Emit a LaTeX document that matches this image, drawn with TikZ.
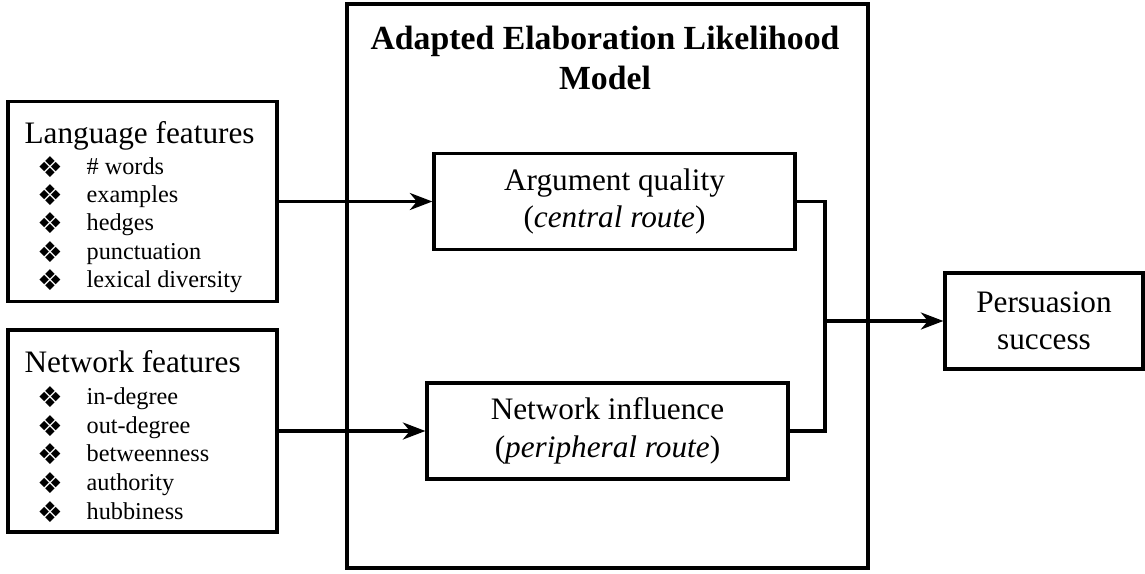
\documentclass[tikz,border=0pt]{standalone}
\usepackage{fontspec}
\setmainfont{Liberation Serif}
\newfontfamily\dingfont{DejaVu Sans}
\usetikzlibrary{arrows.meta}
\newcommand{\featbullet}{\makebox[19.6pt][l]{\raisebox{-1.2pt}{\dingfont\fontsize{11.5}{12}\selectfont ❖}}}

\begin{document}
\begin{tikzpicture}[x=0.4pt,y=-0.4pt,line width=1.3pt,
  box/.style={draw,rectangle,inner sep=0pt},
  feat/.style={anchor=base west,inner sep=0pt,font=\fontsize{12.5}{15}\selectfont},
  item/.style={anchor=base west,inner sep=0pt,font=\fontsize{9.7}{11.6}\selectfont},
  route/.style={box,minimum width=144.4pt,minimum height=38.4pt,align=center,font=\fontsize{12.5}{15}\selectfont},
  arr/.style={-{Stealth[length=9pt,width=6.8pt,inset=2.8pt]}}]
\useasboundingbox (0,0) rectangle (1145,573);

% the model frame
\node[box,minimum width=208.4pt,minimum height=225.6pt] (model) at (607.5,286) {};
\node[align=center,anchor=north,font=\bfseries\fontsize{13.5}{16}\selectfont] (title) at (605,16) {Adapted Elaboration Likelihood\\Model};

% feature boxes
\node[box,minimum width=107.6pt,minimum height=80pt] (lang) at (142.5,201.5) {};
\node[box,minimum width=107.6pt,minimum height=80.8pt] (net) at (142.5,431) {};

\node[feat] (langhead) at (23,143) {Language features};
\node[item] (lang1) at (36,174) {\featbullet\# words};
\node[item] (lang2) at (36,202) {\featbullet examples};
\node[item] (lang3) at (36,230) {\featbullet hedges};
\node[item] (lang4) at (36,259) {\featbullet punctuation};
\node[item] (lang5) at (36,287) {\featbullet lexical diversity};

\node[feat] (nethead) at (23,372) {Network features};
\node[item] (net1) at (36,404) {\featbullet in-degree};
\node[item] (net2) at (36,433) {\featbullet out-degree};
\node[item] (net3) at (36,461) {\featbullet betweenness};
\node[item] (net4) at (36,490) {\featbullet authority};
\node[item] (net5) at (36,519) {\featbullet hubbiness};

% routes
\node[route] (arg) at (614.5,201.5) {Argument quality\\(\textit{central route})};
\node[route] (netinf) at (607.5,431) {Network influence\\(\textit{peripheral route})};

% outcome
\node[route,minimum width=79.2pt] (pers) at (1044,321) {Persuasion\\success};

% connectors
\coordinate (junc) at (825,321);
\draw[arr] (lang.east) -- (arg.west);
\draw[arr] (net.east) -- (netinf.west);
\draw (arg.east) -| (junc) |- (netinf.east);
\draw[arr] (junc) -- (pers.west);
\end{tikzpicture}
\end{document}
